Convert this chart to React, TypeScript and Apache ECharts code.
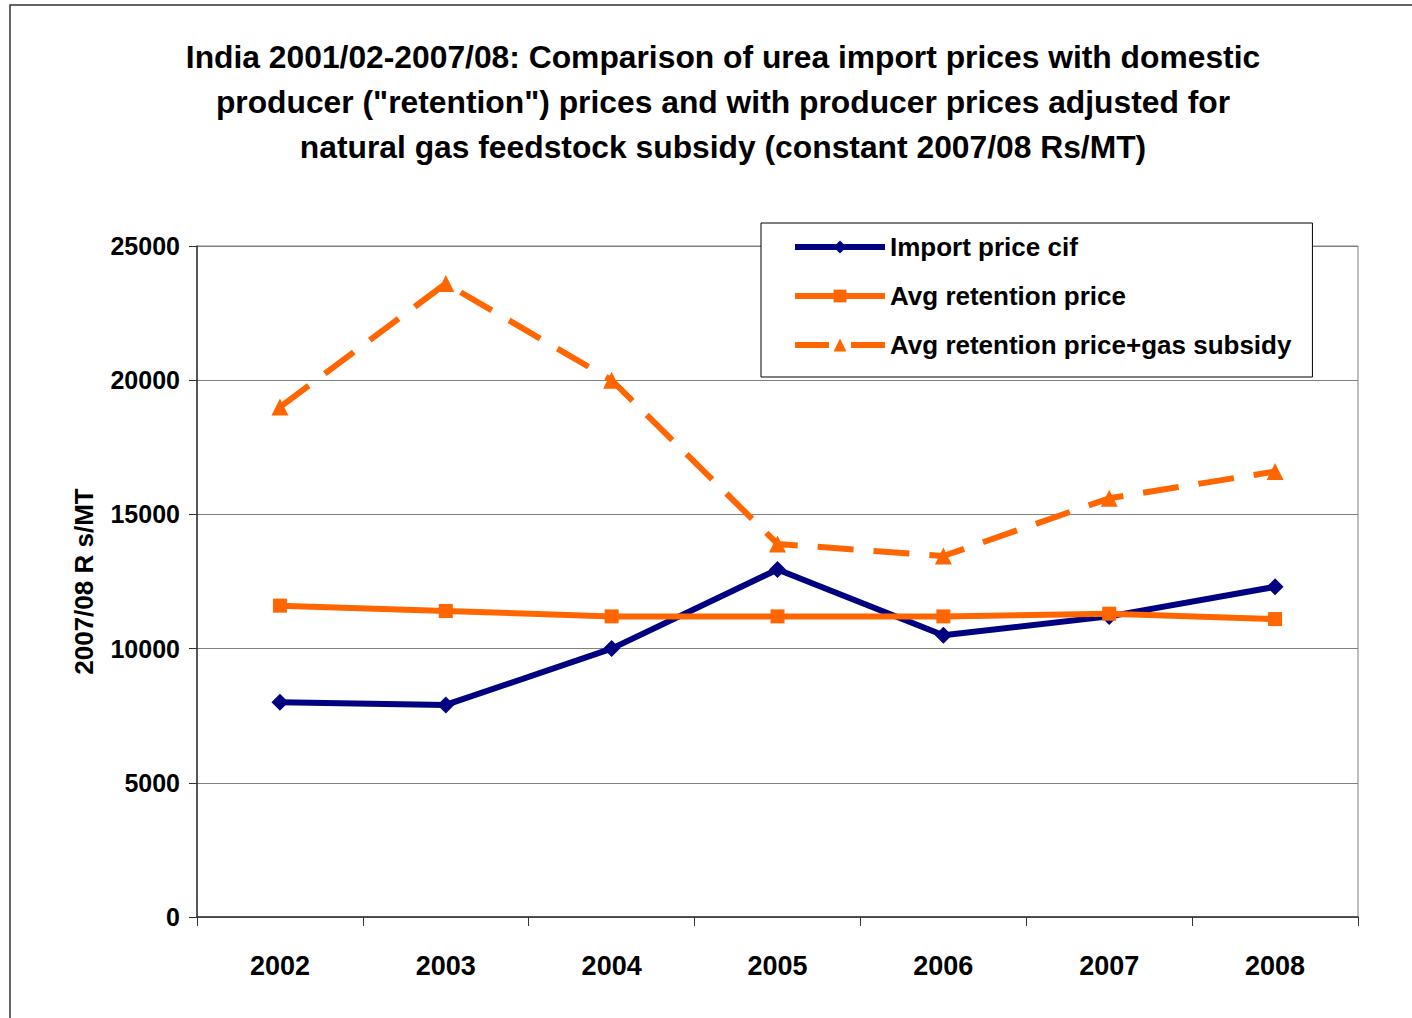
import React, { useEffect, useRef } from "react";
import * as echarts from "echarts";

const years = ["2002", "2003", "2004", "2005", "2006", "2007", "2008"];
const importPrice = [8000, 7900, 10000, 12950, 10500, 11200, 12300];
const retentionPrice = [11600, 11400, 11200, 11200, 11200, 11300, 11100];
const retentionPlusSubsidy = [19000, 23600, 20000, 13900, 13450, 15600, 16600];
const yTicks = { min: 0, max: 25000, interval: 5000 };

const titleText =
  "India 2001/02-2007/08: Comparison of urea import prices with domestic\nproducer (\"retention\") prices and with producer prices adjusted for\nnatural gas feedstock subsidy (constant 2007/08 Rs/MT)";

const FONT = "'Liberation Sans', Arial, sans-serif";
const DASH = [36, 20];

export default function App() {
  const ref = useRef<HTMLDivElement>(null);
  useEffect(() => {
    if (!ref.current) return;
    const chart = echarts.init(ref.current, undefined, { renderer: "svg" });
    chart.setOption({
      animation: false,
      backgroundColor: "#ffffff",
      textStyle: { fontFamily: FONT },
      title: {
        text: titleText,
        left: 718,
        top: 29,
        textAlign: "center",
        textStyle: {
          fontFamily: FONT,
          fontSize: 31.8,
          fontWeight: "bold",
          color: "#000",
          lineHeight: 45,
        },
      },
      graphic: [
        {
          type: "rect",
          shape: { x: 10, y: 5, width: 1440, height: 1060 },
          style: { fill: "none", stroke: "#333", lineWidth: 1.5 },
          silent: true,
        },
      ],
      legend: {
        left: 761,
        top: 223,
        orient: "vertical",
        backgroundColor: "#fff",
        borderColor: "#000",
        borderWidth: 1,
        padding: [11, 21, 19, 31],
        itemWidth: 90,
        itemHeight: 16,
        itemGap: 23,
        textStyle: {
          fontFamily: FONT,
          fontSize: 26,
          fontWeight: "bold",
          color: "#000",
          lineHeight: 26,
        },
        data: [
          { name: "Import price cif", lineStyle: { width: 6 } },
          { name: "Avg retention price", lineStyle: { width: 6 } },
          { name: "Avg retention price+gas subsidy", lineStyle: { width: 6, type: [34, 22] } },
        ],
      },
      grid: {
        left: 197,
        top: 246,
        right: 54,
        bottom: 101,
        show: true,
        borderColor: "#808080",
        borderWidth: 1,
        containLabel: false,
      },
      xAxis: {
        type: "category",
        data: years,
        boundaryGap: true,
        axisLine: { lineStyle: { color: "#333", width: 1.5 } },
        axisTick: { show: true, length: 9, inside: false, lineStyle: { color: "#333" } },
        axisLabel: {
          fontFamily: FONT,
          fontSize: 27,
          fontWeight: "bold",
          color: "#000",
          margin: 35,
        },
      },
      yAxis: {
        type: "value",
        min: yTicks.min,
        max: yTicks.max,
        interval: yTicks.interval,
        name: "2007/08 R s/MT",
        nameLocation: "middle",
        nameGap: 100,
        nameRotate: 90,
        nameTextStyle: { fontFamily: FONT, fontSize: 26, fontWeight: "bold", color: "#000" },
        axisLine: { show: true, lineStyle: { color: "#333", width: 1.5 } },
        axisTick: { show: true, length: 8, lineStyle: { color: "#333" } },
        axisLabel: {
          fontFamily: FONT,
          fontSize: 25,
          fontWeight: "bold",
          color: "#000",
          margin: 17,
          formatter: (v: number) => String(v),
        },
        splitLine: { show: true, lineStyle: { color: "#808080", width: 1 } },
      },
      series: [
        {
          name: "Import price cif",
          type: "line",
          data: importPrice,
          symbol: "diamond",
          symbolSize: 17,
          color: "#000080",
          lineStyle: { color: "#000080", width: 6 },
          itemStyle: { color: "#000080" },
          z: 3,
        },
        {
          name: "Avg retention price",
          type: "line",
          data: retentionPrice,
          symbol: "rect",
          symbolSize: 14,
          color: "#FF6600",
          lineStyle: { color: "#FF6600", width: 6 },
          itemStyle: { color: "#FF6600" },
          z: 4,
        },
        {
          name: "Avg retention price+gas subsidy",
          type: "line",
          data: retentionPlusSubsidy,
          symbol: "triangle",
          symbolSize: 17,
          color: "#FF6600",
          lineStyle: { color: "#FF6600", width: 6, type: DASH },
          itemStyle: { color: "#FF6600" },
          z: 2,
        },
      ],
    });
    return () => chart.dispose();
  }, []);
  return (
    <div
      ref={ref}
      style={{ position: "fixed", left: 0, top: 0, width: 1412, height: 1018 }}
    />
  );
}
